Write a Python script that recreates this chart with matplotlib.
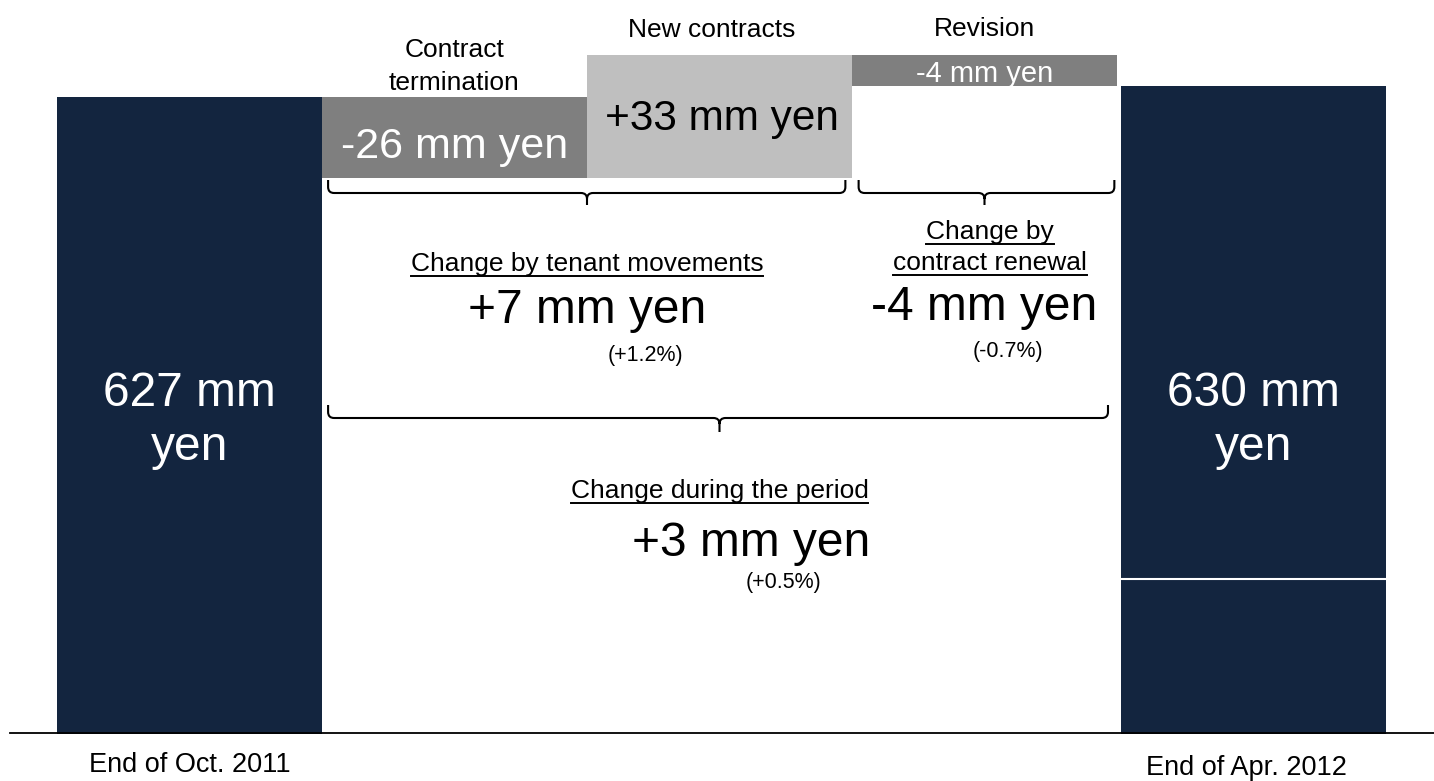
import numpy as np
import matplotlib.pyplot as plt
from matplotlib.path import Path
from matplotlib.patches import PathPatch
from matplotlib.lines import Line2D
from matplotlib.transforms import IdentityTransform

plt.rcParams['font.family'] = ['Liberation Sans', 'DejaVu Sans']

# bar levels as drawn on the slide (the slide is not to scale with the yen figures)
start_level = 637
steps = [-81, 123, -31]
break_level = 155

end_names = ["End of Oct. 2011", "End of Apr. 2012"]
end_labels = ["627 mm\nyen", "630 mm\nyen"]
step_names = ["Contract\ntermination", "New contracts", "Revision"]
step_labels = ["-26 mm yen", "+33 mm yen", "-4 mm yen"]
group_titles = ["Change by tenant movements", "Change by\ncontract renewal", "Change during the period"]
group_values = ["+7 mm yen", "-4 mm yen", "+3 mm yen"]
group_pcts = ["(+1.2%)", "(-0.7%)", "(+0.5%)"]

navy = "#13253f"
dark_gray = "#7f7f7f"
light_gray = "#bfbfbf"

levels = start_level + np.cumsum(steps)
end_level = levels[-1]

fig = plt.figure(figsize=(14.34, 7.81), dpi=100)
ax = fig.add_axes([0, 0, 1, 1])
ax.set_xlim(-189.5 / 265, (1434 - 189.5) / 265)
ax.set_ylim(-47, 734)
ax.axis("off")

# totals
ax.bar(0, start_level, width=1, color=navy)
ax.bar(4.015, end_level, width=1, color=navy)
ax.plot([4.015 - 0.5, 4.015 + 0.5], [break_level, break_level], color="white", lw=1.5)

# steps
prev = np.concatenate([[start_level], levels[:-1]])
colors = [dark_gray, light_gray, dark_gray]
for i, (p, s) in enumerate(zip(prev, steps)):
    ax.bar(i + 1, abs(s), bottom=min(p, p + s), width=1, color=colors[i])

ax.axhline(1, xmin=10 / 1434, xmax=1, color="black", lw=1.3, zorder=5)


def lines_at(x, y, text, step, **kw):
    out = []
    for k, line in enumerate(text.split("\n")):
        out.append(ax.text(x, y - k * step, line, ha="center", va="baseline", **kw))
    return out


def brace(x0, x1, ytop, yline, ytip, xc=None):
    if xc is None:
        xc = (x0 + x1) / 2
    rx, ry = 6 / 265, 6
    verts = [(x0, ytop), (x0, yline + ry), (x0, yline), (x0 + rx, yline),
             (xc - rx, yline), (xc, yline), (xc, yline - ry), (xc, ytip),
             (xc, yline - ry), (xc, yline), (xc + rx, yline),
             (x1 - rx, yline), (x1, yline), (x1, yline + ry), (x1, ytop)]
    codes = [Path.MOVETO, Path.LINETO, Path.CURVE3, Path.CURVE3,
             Path.LINETO, Path.CURVE3, Path.CURVE3, Path.LINETO,
             Path.MOVETO, Path.CURVE3, Path.CURVE3,
             Path.LINETO, Path.CURVE3, Path.CURVE3, Path.LINETO]
    ax.add_patch(PathPatch(Path(verts, codes), fill=False, lw=1.5, color="black"))


# bottom labels and total values
ax.text(0, -38, end_names[0], ha="center", va="baseline", fontsize=19.5)
ax.text(3.99, -41, end_names[1], ha="center", va="baseline", fontsize=19.5)
lines_at(0, 328, end_labels[0], 54, fontsize=34.5, color="white")
lines_at(4.015, 328, end_labels[1], 54, fontsize=34.5, color="white")

# step titles and values
lines_at(1, 677, step_names[0], 33, fontsize=19)
ax.text(1.97, 697, step_names[1], ha="center", va="baseline", fontsize=19)
ax.text(3, 698, step_names[2], ha="center", va="baseline", fontsize=19)
ax.text(1, 576, step_labels[0], ha="center", va="baseline", fontsize=31, color="white")
ax.text(2.01, 604, step_labels[1], ha="center", va="baseline", fontsize=30.5, color="black")
ax.text(3, 652, step_labels[2], ha="center", va="baseline", fontsize=21, color="white")

# braces
brace(0.523, 2.475, 554, 541, 529, xc=1.5)
brace(2.525, 3.49, 554, 541, 529, xc=3.0)
brace(0.523, 3.466, 329, 316, 302, xc=2.0)

# group annotations
underlined = []
underlined += lines_at(1.5, 463, group_titles[0], 31, fontsize=19)
underlined += lines_at(3.02, 495, group_titles[1], 31, fontsize=19)
underlined += lines_at(2.0, 236, group_titles[2], 31, fontsize=19)
ax.text(1.5, 411, group_values[0], ha="center", va="baseline", fontsize=34.5)
ax.text(3.0, 414, group_values[1], ha="center", va="baseline", fontsize=34.5)
ax.text(2.12, 178, group_values[2], ha="center", va="baseline", fontsize=34.5)
ax.text(1.72, 373, group_pcts[0], ha="center", va="baseline", fontsize=15.5)
ax.text(3.09, 377, group_pcts[1], ha="center", va="baseline", fontsize=15.5)
ax.text(2.24, 146, group_pcts[2], ha="center", va="baseline", fontsize=15.5)

# underline the titles
fig.canvas.draw()
renderer = fig.canvas.get_renderer()
for t in underlined:
    bb = t.get_window_extent(renderer)
    by = ax.transData.transform(t.get_position())[1] - 5
    fig.add_artist(Line2D([bb.x0, bb.x1], [by, by], lw=1.4, color="black",
                          transform=IdentityTransform()))

fig.savefig("out.png", dpi=100)
